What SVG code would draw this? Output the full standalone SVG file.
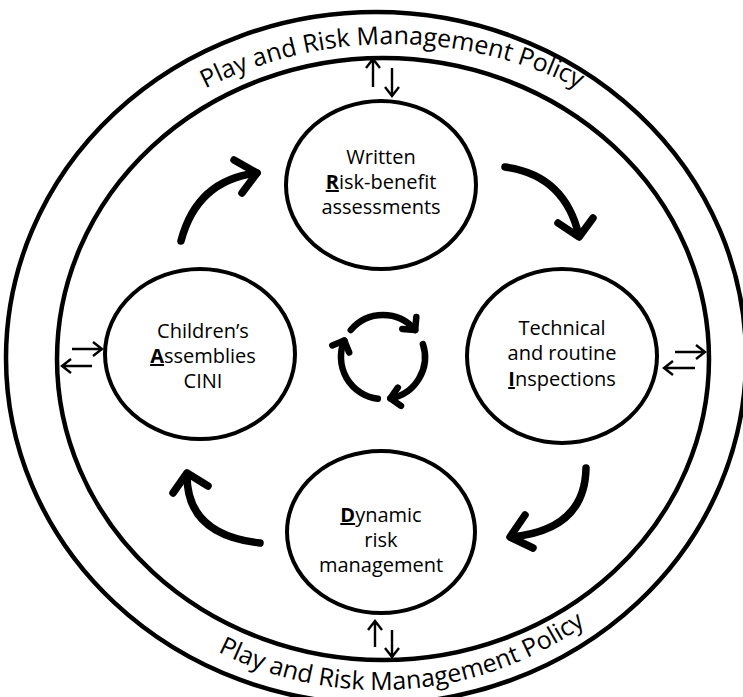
<svg xmlns="http://www.w3.org/2000/svg" width="743" height="697" viewBox="0 0 743 697">
<style>
.ring{fill:none;stroke:#000;stroke-width:4.5}
.node{fill:#fff;stroke:#000;stroke-width:4}
.lbl{font-family:"Open Sans","Liberation Sans",sans-serif;font-size:20px;fill:#000;text-anchor:middle}
.key{font-weight:bold;text-decoration:underline}
.policy{font-family:"Open Sans","Liberation Sans",sans-serif;font-size:25px;fill:#000;text-anchor:middle}
.big{fill:none;stroke:#000;stroke-width:7.5;stroke-linecap:round;stroke-linejoin:round}
.cyc{fill:none;stroke:#000;stroke-width:6.5;stroke-linecap:round;stroke-linejoin:round}
.thin{fill:none;stroke:#000;stroke-width:2.4}
</style>
<defs>
<path id="topArc" d="M33.5,251 A414,414 0 0 1 750.5,251"/>
<path id="botArc" d="M20,331 A359,359 0 0 0 738,331"/>
</defs>
<rect width="743" height="697" fill="#fff"/>
<g id="policy">
<ellipse class="ring" cx="376" cy="358" rx="370" ry="346"/>
<ellipse class="ring" cx="383" cy="359" rx="326" ry="301"/>
<text class="policy"><textPath href="#topArc" startOffset="50%">Play and Risk Management Policy</textPath></text>
<text class="policy"><textPath href="#botArc" startOffset="590">Play and Risk Management Policy</textPath></text>
</g>
<g id="node-written">
<ellipse class="node" cx="381" cy="185" rx="95" ry="84"/>
<text class="lbl" x="381" y="164">Written</text>
<text class="lbl" x="381" y="189"><tspan class="key">R</tspan>isk-benefit</text>
<text class="lbl" x="381" y="214">assessments</text>
</g>
<g id="node-children">
<ellipse class="node" cx="200" cy="354" rx="95" ry="85"/>
<text class="lbl" x="203" y="338">Children’s</text>
<text class="lbl" x="203" y="363"><tspan class="key">A</tspan>ssemblies</text>
<text class="lbl" x="203" y="388">CINI</text>
</g>
<g id="node-technical">
<ellipse class="node" cx="562" cy="356" rx="95" ry="87"/>
<text class="lbl" x="562" y="335">Technical</text>
<text class="lbl" x="562" y="360">and routine</text>
<text class="lbl" x="562" y="386"><tspan class="key">I</tspan>nspections</text>
</g>
<g id="node-dynamic">
<ellipse class="node" cx="381" cy="532" rx="94" ry="81"/>
<text class="lbl" x="381" y="522"><tspan class="key">D</tspan>ynamic</text>
<text class="lbl" x="381" y="547">risk</text>
<text class="lbl" x="381" y="572">management</text>
</g>
<g id="connectors">
<path class="big" d="M181,241 Q197,180 257,173"/>
<path class="big" d="M234,160 L257,173 L242,193"/>
<path class="big" d="M505,167 Q565,175 579,236"/>
<path class="big" d="M558,223 L579,237 L593,218"/>
<path class="big" d="M586,468 Q585,530 511,537"/>
<path class="big" d="M525,515 L510,537 L533,548"/>
<path class="big" d="M260,543 Q186,535 187,474"/>
<path class="big" d="M173,493 L187,473 L208,486"/>
<path class="cyc" d="M350.8,330 A42,42 0 0 1 415.2,330"/>
<path class="cyc" d="M416.3,317.1 L415.2,330 L402.3,328.9"/>
<path class="cyc" d="M422.9,344 A42,42 0 0 1 390.3,398.4"/>
<path class="cyc" d="M401,405.9 L390.3,398.4 L397.8,387.7"/>
<path class="cyc" d="M377.9,398.7 A42,42 0 0 1 344.3,340.6"/>
<path class="cyc" d="M332.3,345.5 L344.3,340.6 L349.2,352.6"/>
<path class="thin" d="M373,87 V59 M366,68 L373,59 L380,68"/>
<path class="thin" d="M392,68 V96 M385,87 L392,96 L399,87"/>
<path class="thin" d="M375,647 V621 M368,630 L375,621 L382,630"/>
<path class="thin" d="M392,630 V657 M385,648 L392,657 L399,648"/>
<path class="thin" d="M72,349 H102 M93,342 L102,349 L93,356"/>
<path class="thin" d="M92,366 H62 M71,359 L62,366 L71,373"/>
<path class="thin" d="M675,352 H705 M696,345 L705,352 L696,359"/>
<path class="thin" d="M695,368 H664 M673,361 L664,368 L673,375"/>
</g>
</svg>
